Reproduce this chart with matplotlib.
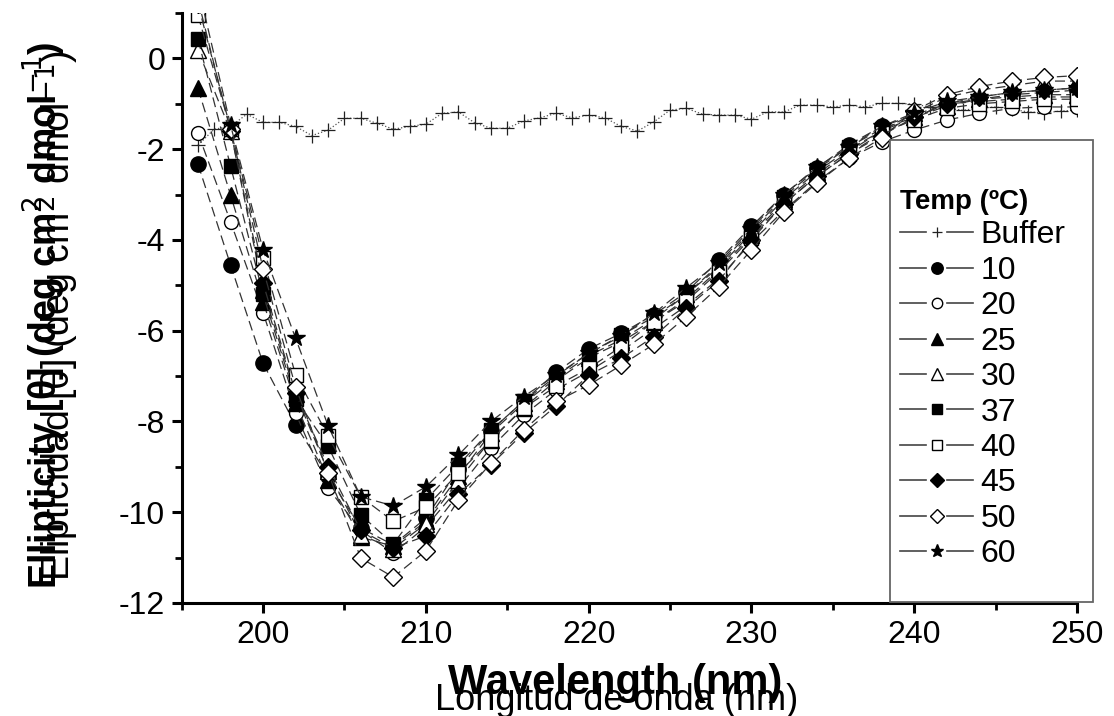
import matplotlib
matplotlib.use("Agg")
import matplotlib.pyplot as plt
from matplotlib.lines import Line2D
from matplotlib.legend_handler import HandlerBase
from matplotlib.patches import Rectangle
from matplotlib.ticker import MultipleLocator

plt.rcParams['font.family'] = ['Liberation Sans', 'DejaVu Sans']
plt.rcParams['axes.unicode_minus'] = False

# ---------------- data ----------------
wavelength = [196, 198, 200, 202, 204, 206, 208, 210, 212, 214, 216, 218, 220, 222,
              224, 226, 228, 230, 232, 234, 236, 238, 240, 242, 244, 246, 248, 250]

buffer_wavelength = list(range(196, 251))
buffer_vals = [-1.91, -1.56, -1.50, -1.23, -1.41, -1.41, -1.50, -1.70, -1.58, -1.32,
               -1.32, -1.43, -1.56, -1.50, -1.45, -1.21, -1.18, -1.42, -1.54, -1.54,
               -1.38, -1.31, -1.21, -1.31, -1.25, -1.31, -1.50, -1.60, -1.40, -1.14,
               -1.10, -1.23, -1.25, -1.25, -1.34, -1.18, -1.18, -1.03, -1.03, -1.07,
               -1.03, -1.07, -0.99, -0.99, -1.01, -1.07, -1.10, -1.14, -1.10, -1.07,
               -1.12, -1.18, -1.20, -1.16, -1.14]

t10 = [-2.33, -4.55, -6.72, -8.08, -9.20, -10.35, -10.72, -10.13, -9.05, -8.20, -7.55, -6.92, -6.40, -6.06,
       -5.65, -5.15, -4.45, -3.70, -3.00, -2.42, -1.90, -1.50, -1.25, -1.00, -0.90, -0.80, -0.75, -0.70]
t20 = [-1.65, -3.60, -5.60, -7.82, -9.47, -10.40, -10.90, -10.32, -9.47, -8.58, -7.86, -7.30, -6.90, -6.45,
       -5.95, -5.45, -4.85, -4.05, -3.35, -2.72, -2.20, -1.84, -1.58, -1.36, -1.21, -1.10, -1.07, -1.07]
t25 = [-0.66, -3.01, -5.36, -7.60, -9.29, -10.55, -10.75, -10.20, -9.20, -8.25, -7.60, -7.05, -6.55, -6.20,
       -5.75, -5.20, -4.60, -3.85, -3.10, -2.50, -2.00, -1.60, -1.30, -1.05, -0.90, -0.85, -0.80, -0.80]
t30 = [0.18, -1.60, -5.10, -7.40, -9.10, -10.50, -10.80, -10.25, -9.30, -8.40, -7.70, -7.10, -6.60, -6.25,
       -5.80, -5.30, -4.65, -3.90, -3.15, -2.55, -2.05, -1.60, -1.20, -0.85, -0.70, -0.60, -0.50, -0.50]
t37 = [0.42, -2.37, -5.20, -7.50, -8.55, -10.06, -10.70, -9.73, -8.96, -8.19, -7.56, -7.00, -6.50, -6.10,
       -5.70, -5.20, -4.55, -3.80, -3.05, -2.45, -1.95, -1.55, -1.30, -1.00, -0.95, -0.90, -0.85, -0.85]
t40 = [0.95, -1.55, -4.40, -6.98, -8.32, -9.66, -10.20, -9.89, -9.14, -8.41, -7.71, -7.22, -6.83, -6.35,
       -5.80, -5.35, -4.70, -3.95, -3.20, -2.60, -2.10, -1.65, -1.35, -1.10, -1.00, -0.95, -0.90, -0.90]
t45 = [1.30, -1.60, -4.95, -7.38, -9.00, -10.40, -10.79, -10.52, -9.60, -8.95, -8.26, -7.66, -6.98, -6.61,
       -6.13, -5.50, -4.90, -4.00, -3.20, -2.60, -2.10, -1.70, -1.30, -1.00, -0.85, -0.75, -0.70, -0.65]
t50 = [1.20, -1.55, -4.64, -7.25, -9.14, -11.01, -11.43, -10.85, -9.73, -8.92, -8.19, -7.56, -7.20, -6.76,
       -6.30, -5.69, -5.03, -4.22, -3.38, -2.75, -2.20, -1.75, -1.15, -0.80, -0.62, -0.50, -0.42, -0.38]
t60 = [1.60, -1.47, -4.22, -6.17, -8.10, -9.66, -9.86, -9.44, -8.74, -8.00, -7.45, -6.98, -6.50, -6.12,
       -5.62, -5.05, -4.50, -3.75, -3.00, -2.40, -1.95, -1.50, -1.20, -0.95, -0.85, -0.75, -0.70, -0.65]

temp_labels = ['10', '20', '25', '30', '37', '40', '45', '50', '60']
temp_series = [t10, t20, t25, t30, t37, t40, t45, t50, t60]
markers = ['o', 'o', '^', '^', 's', 's', 'D', 'D', '*']
filled = [True, False, True, False, True, False, True, False, True]
msizes = [11, 10, 11, 11, 10, 10, 9, 9, 13]

x_ticks = [200, 210, 220, 230, 240, 250]
y_ticks = [0, -2, -4, -6, -8, -10, -12]

# ---------------- figure ----------------
W, H = 1114, 716
fig = plt.figure(figsize=(W / 100, H / 100), dpi=100)
ax = fig.add_axes([181.7 / W, 1 - 603 / H, (1077 - 181.7) / W, (603 - 13) / H])

handles = []
bl, = ax.plot(buffer_wavelength, buffer_vals, linestyle=':', color='#555555', lw=0.9,
              marker='+', markersize=10, markeredgewidth=0.9, markeredgecolor='#222222',
              label='Buffer', zorder=2)
handles.append(bl)
for lab, vals, mk, fl, ms in zip(temp_labels, temp_series, markers, filled, msizes):
    ln, = ax.plot(wavelength, vals, linestyle=(0, (8, 4)), color='#333333', lw=0.9,
                  marker=mk, markersize=ms, markerfacecolor='black' if fl else 'white',
                  markeredgecolor='black', markeredgewidth=1.0, label=lab, zorder=3)
    handles.append(ln)

ax.set_xlim(195, 250)
ax.set_ylim(-12, 1)
ax.set_xticks(x_ticks)
ax.set_yticks(y_ticks)
ax.xaxis.set_minor_locator(MultipleLocator(5))
ax.yaxis.set_minor_locator(MultipleLocator(1))
for s in ['top', 'right']:
    ax.spines[s].set_visible(False)
for s in ['left', 'bottom']:
    ax.spines[s].set_linewidth(2.2)
ax.tick_params(which='major', direction='out', length=7, width=2.2, labelsize=23, pad=5)
ax.tick_params(which='minor', direction='out', length=5, width=2.0)
ax.set_facecolor('white')


class GapHandler(HandlerBase):
    def create_artists(self, legend, orig_handle, xdescent, ydescent, width, height,
                       fontsize, trans):
        y = height / 2 - ydescent
        x0 = -xdescent
        g = 0.36
        l1 = Line2D([x0, x0 + width * g], [y, y], color='#444444', lw=1.2)
        l2 = Line2D([x0 + width * (1 - g), x0 + width], [y, y], color='#444444', lw=1.2)
        m = Line2D([x0 + width / 2], [y], linestyle='none', marker=orig_handle.get_marker(),
                   markersize=orig_handle.get_markersize() * 0.75,
                   markerfacecolor=orig_handle.get_markerfacecolor(),
                   markeredgecolor=orig_handle.get_markeredgecolor(),
                   markeredgewidth=orig_handle.get_markeredgewidth())
        for a in (l1, l2, m):
            a.set_transform(trans)
        return [l1, l2, m]


# legend frame
frame = Rectangle((890 / W, 1 - 602 / H), (1093 - 890) / W, (602 - 140) / H,
                  transform=fig.transFigure, facecolor='white', edgecolor='#666666',
                  lw=1.3, zorder=3)
fig.patches.append(frame)

leg = fig.legend(handles=handles, labels=[h.get_label() for h in handles],
                 loc='upper left', bbox_to_anchor=(900 / W, 1 - 189 / H),
                 bbox_transform=fig.transFigure, frameon=False,
                 title='Temp (ºC)', title_fontproperties={'weight': 'bold', 'size': 20},
                 alignment='left', fontsize=23, handlelength=2.3, handletextpad=0.22,
                 labelspacing=0.17, borderpad=0, borderaxespad=0,
                 handler_map={Line2D: GapHandler()})
leg.set_zorder(5)

# y labels (two overlapping)
ycen = 1 - 315 / H
fig.text(0.040, ycen, 'Ellipticity [θ] (deg cm$^{2}$ dmol$^{-1}$)', rotation=90,
         ha='center', va='center', fontsize=27, fontweight='bold')
fig.text(0.052, ycen, 'Elipticidad [θ] (deg cm$^{2}$ dmol$^{-1}$)', rotation=90,
         ha='center', va='center', fontsize=27)

# x labels (two overlapping)
fig.text(615 / W, 1 - 683 / H, 'Wavelength (nm)', ha='center', va='center',
         fontsize=30, fontweight='bold')
fig.text(617 / W, 1 - 700 / H, 'Longitud de onda (nm)', ha='center', va='center',
         fontsize=26)

fig.savefig('out.png', dpi=100, facecolor='white')
